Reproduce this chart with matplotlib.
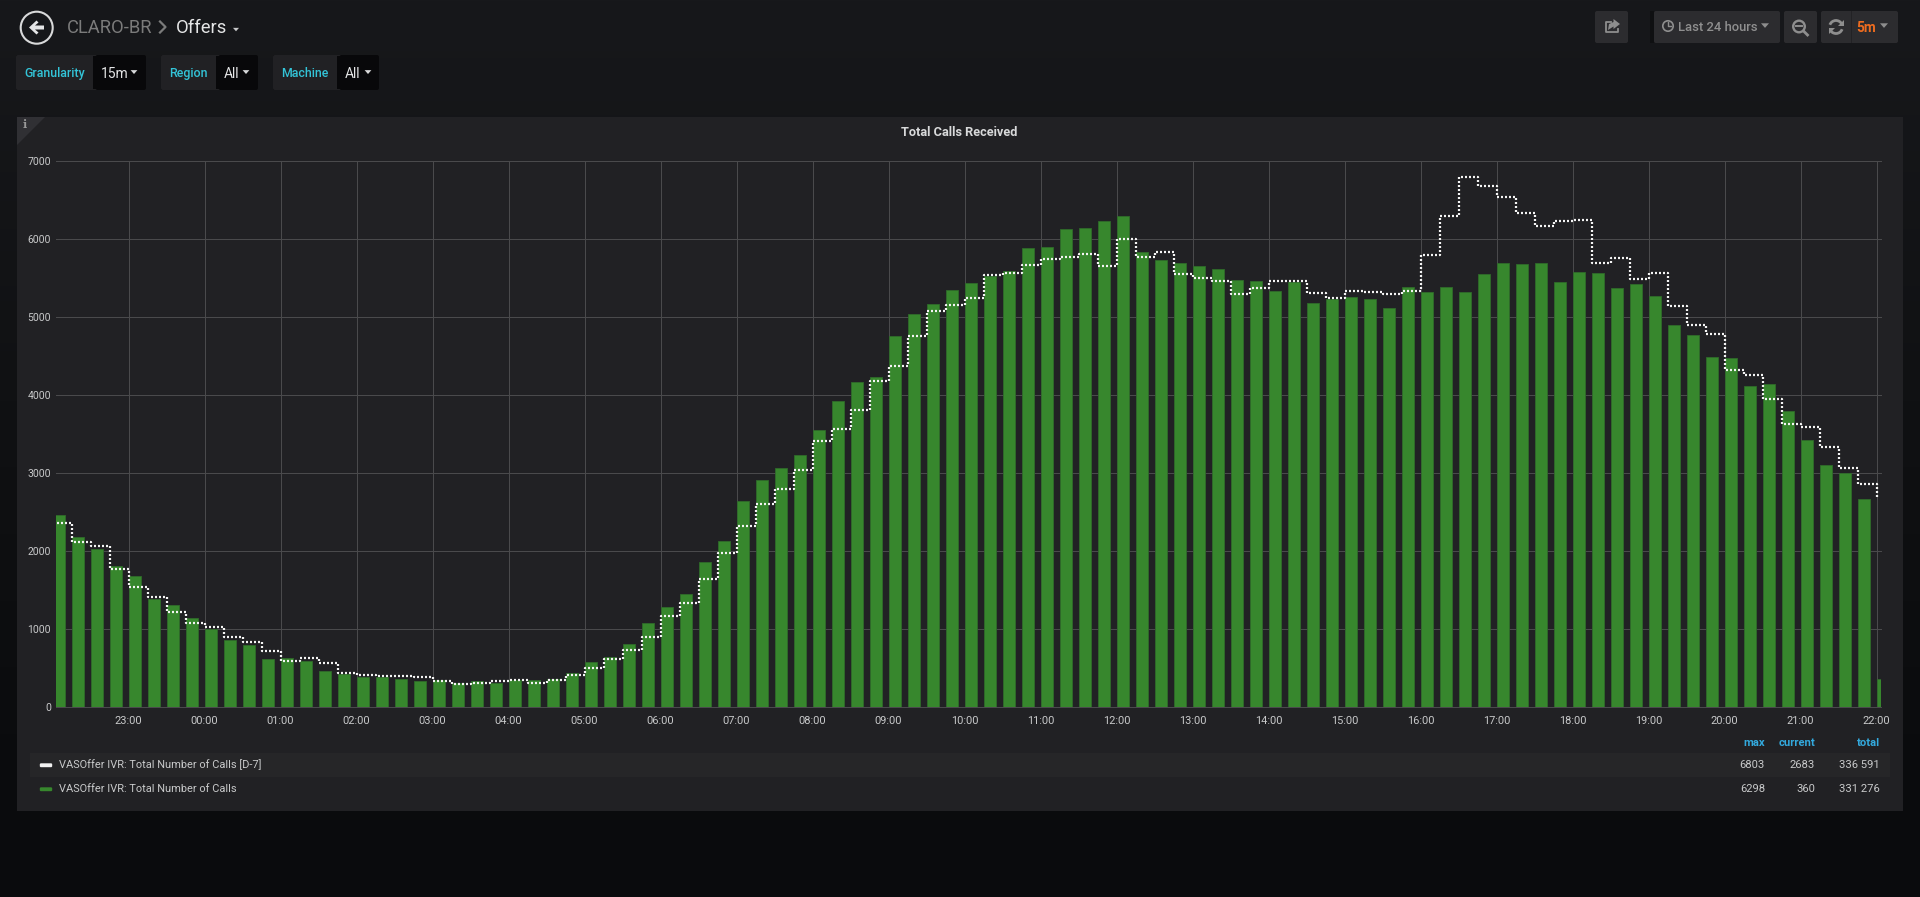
#!/usr/bin/env python3
"""Grafana dashboard screenshot: Total Calls Received, today vs D-7."""

import numpy as np
import matplotlib
matplotlib.use("Agg")
import matplotlib.pyplot as plt
from matplotlib.patches import Rectangle, Polygon, Circle, FancyBboxPatch, Arc

plt.rcParams["font.family"] = ["Roboto", "DejaVu Sans"]

# one value every 15 minutes, 22:00 the day before up to 22:00
calls_today = [
    2470, 2180, 2035, 1813, 1680, 1391, 1310, 1143, 998, 866, 798, 618,
    627, 597, 465, 427, 388, 388, 367, 333, 350, 307, 333, 316,
    350, 346, 358, 435, 585, 645, 812, 1077, 1282, 1457, 1859, 2137,
    2645, 2910, 3068, 3235, 3555, 3927, 4167, 4235, 4756, 5038, 5167, 5350,
    5436, 5530, 5594, 5889, 5902, 6132, 6145, 6239, 6298, 5838, 5735, 5692,
    5658, 5620, 5474, 5462, 5333, 5453, 5179, 5235, 5256, 5235, 5115, 5385,
    5325, 5389, 5320, 5560, 5692, 5679, 5692, 5453, 5577, 5564, 5372, 5427,
    5269, 4902, 4774, 4491, 4474, 4120, 4141, 3803, 3423, 3103, 3000, 2667,
    360,
]
calls_d7 = [
    2364, 2121, 2066, 1771, 1545, 1408, 1220, 1084, 1028, 905, 832, 725,
    597, 627, 572, 435, 414, 401, 401, 384, 341, 303, 307, 333,
    346, 316, 354, 414, 499, 615, 739, 897, 1171, 1333, 1650, 1974,
    2321, 2611, 2799, 3047, 3419, 3564, 3816, 4184, 4380, 4765, 5077, 5162,
    5252, 5542, 5564, 5671, 5752, 5778, 5816, 5654, 6004, 5769, 5842, 5551,
    5509, 5466, 5295, 5380, 5462, 5462, 5316, 5248, 5338, 5325, 5299, 5338,
    5795, 6303, 6803, 6684, 6547, 6333, 6171, 6231, 6252, 5701, 5765, 5496,
    5568, 5145, 4906, 4782, 4325, 4261, 3957, 3632, 3594, 3342, 3064, 2868,
    2683,
]
hour_labels = ["23:00", "00:00", "01:00", "02:00", "03:00", "04:00", "05:00", "06:00",
               "07:00", "08:00", "09:00", "10:00", "11:00", "12:00", "13:00", "14:00",
               "15:00", "16:00", "17:00", "18:00", "19:00", "20:00", "21:00", "22:00"]
y_ticks = [0, 1000, 2000, 3000, 4000, 5000, 6000, 7000]
legend_names = ["VASOffer IVR: Total Number of Calls [D-7]", "VASOffer IVR: Total Number of Calls"]
stat_names = ["max", "current", "total"]
stat_rows = [["6803", "2683", "336 591"], ["6298", "360", "331 276"]]

W, H = 1920, 897
PANEL = "#212124"
GREEN = "#37872D"
TEXT = "#c8c9ca"
BLUE = "#33a9dd"
CYAN = "#33c4d8"
GREY = "#8e8e8e"

fig = plt.figure(figsize=(W / 100, H / 100), dpi=100)

# page furniture is laid out in screen pixels
bg = fig.add_axes([0, 0, 1, 1], zorder=0)
bg.set_xlim(0, W)
bg.set_ylim(H, 0)
bg.axis("off")

top = np.array([0x17, 0x18, 0x1b])
mid = np.array([0x10, 0x11, 0x13])
low = np.array([0x0a, 0x0b, 0x0d])
rows = np.arange(H)
grad = np.stack([np.interp(rows, [0, 400, 800], [top[c], mid[c], low[c]]) for c in range(3)], axis=1)
bg.imshow(grad[:, None, :] / 255, extent=(0, W, H, 0), aspect="auto", zorder=0)
bg.set_xlim(0, W)
bg.set_ylim(H, 0)


def box(x0, y0, x1, y1, color, z=1):
    bg.add_patch(Rectangle((x0, y0), x1 - x0, y1 - y0, fc=color, ec="none", zorder=z))


def rbox(x0, y0, x1, y1, color, z=1):
    bg.add_patch(FancyBboxPatch((x0 + 2, y0 + 2), x1 - x0 - 4, y1 - y0 - 4,
                                boxstyle="round,pad=2,rounding_size=2", fc=color, ec="none", zorder=z))


def label(x, y, s, size, color=TEXT, ha="left", weight="normal", **kw):
    bg.text(x, y, s, fontsize=size, color=color, ha=ha, va="center", fontweight=weight, zorder=5, **kw)


def caret(x, y, size=4, color="#d8d9da"):
    bg.add_patch(Polygon([(x - size, y - size * 0.55), (x + size, y - size * 0.55), (x, y + size * 0.6)],
                         fc=color, ec="none", zorder=5))


# panel
box(17, 117, 1903, 811, PANEL)
bg.add_patch(Polygon([(17, 117), (45, 117), (17, 145)], fc="#303034", ec="none", zorder=2))
label(25, 125, "i", 8, color="#9a9a9a", ha="center", weight="bold", family="DejaVu Serif")
label(959, 132, "Total Calls Received", 9.2, color="#d8d9da", ha="center", weight="bold")

# header
bg.add_patch(Circle((36.7, 27.7), 16, fc="none", ec="#d8d9da", lw=1.5, zorder=5))
bg.add_patch(Polygon([(29, 27.5), (36.5, 20.5), (38.5, 22.5), (35, 25.5), (44, 25.5), (44, 29.5),
                      (35, 29.5), (38.5, 32.5), (36.5, 34.5)], fc="#e4e5e6", ec="none", zorder=5))
label(67, 28, "CLARO-BR", 13.2, color="#7b7b7b")
bg.plot([160, 165.5, 160], [21.5, 27, 32.5], color="#7b7b7b", lw=1.6, zorder=5)
label(176, 28, "Offers", 13.2, color="#e4e5e6")
caret(236, 29.5, 3, "#c8c9ca")

# template variables
for x0, x1, x2, name, value, tx, vx, cx in [
    (16, 93, 146, "Granularity", "15m", 24.5, 101, 134),
    (161, 216, 258, "Region", "All", 169.5, 224, 246),
    (273, 337, 379, "Machine", "All", 281.5, 345, 368),
]:
    rbox(x0, 55, x2, 90, "#08080a", 1)
    rbox(x0, 55, x1 + 4, 90, PANEL, 2)
    box(x1, 56, x1 + 4, 89, "#08080a", 3)
    label(tx, 73.5, name, 8.9, color=CYAN, weight="medium")
    label(vx, 74, value, 10, color="#e4e5e6")
    caret(cx, 72, 3.4)

# toolbar
BTN = "#2c2c2f"
box(1650, 11, 1654, 43, "#0f1012")
rbox(1595, 11, 1628, 43, BTN)
rbox(1654, 11, 1780, 43, BTN)
rbox(1784, 11, 1817, 43, BTN)
rbox(1821, 11, 1898, 43, BTN)
box(1851, 11, 1852, 43, "#222225", 3)
# share icon
bg.plot([1611, 1606, 1606, 1618, 1618], [22, 22, 32.5, 32.5, 29], color=GREY, lw=1.3, zorder=5)
bg.add_patch(Polygon([(1620, 24), (1613.5, 19), (1613.5, 22), (1609, 24), (1608, 30), (1613.5, 26.5), (1613.5, 29)],
                     fc=GREY, ec="none", zorder=5))
# clock
bg.add_patch(Circle((1668, 26), 5.2, fc="none", ec=GREY, lw=1.2, zorder=5))
bg.plot([1668, 1668, 1671], [22.5, 26.5, 26.5], color=GREY, lw=1, zorder=5)
label(1678, 27.5, "Last 24 hours", 9.4, color="#8f8f8f", weight="medium")
caret(1765, 25.5, 4, GREY)
# zoom out
bg.add_patch(Circle((1799, 26.5), 5.8, fc="none", ec=GREY, lw=1.7, zorder=5))
bg.plot([1796, 1802], [26.5, 26.5], color=GREY, lw=1.4, zorder=5)
bg.plot([1803.5, 1807.5], [31, 35], color=GREY, lw=2, zorder=5)
# refresh
bg.add_patch(Arc((1836, 27), 13, 13, theta1=200, theta2=335, ec=GREY, lw=2, zorder=5))
bg.add_patch(Arc((1836, 27), 13, 13, theta1=20, theta2=155, ec=GREY, lw=2, zorder=5))
bg.add_patch(Polygon([(1843.5, 20), (1843.5, 26), (1837.5, 26)], fc=GREY, ec="none", zorder=5))
bg.add_patch(Polygon([(1828.5, 34), (1828.5, 28), (1834.5, 28)], fc=GREY, ec="none", zorder=5))
label(1856.5, 27.5, "5m", 9.8, color="#ef6c1f", weight="bold")
caret(1884, 25.5, 4, GREY)

# legend table
box(30, 753, 1890, 777, "#262628")
for y, name, color, row in zip([764, 788], legend_names, ["#f2f2f2", GREEN], stat_rows):
    bg.add_patch(FancyBboxPatch((41, y + 0.5), 10, 1.5, boxstyle="round,pad=1.2,rounding_size=1.2",
                                fc=color, ec="none", zorder=5))
    label(59, y + 1, name, 7.9, color=TEXT)
    for x, val in zip([1765, 1815, 1880], row):
        label(x, y + 1, val, 8.1, color=TEXT, ha="right")
for x, name in zip([1765, 1815, 1880], stat_names):
    label(x, 743, name, 8.1, color=BLUE, ha="right", weight="bold")

# the chart itself, x in hours since 22:00 the day before
PX_PER_HOUR = 76.0
X_ZERO = 52.6
AX_L, AX_R, AX_T, AX_B = 56.0, 1881.0, 161.3, 707.3
ax = fig.add_axes([AX_L / W, 1 - AX_B / H, (AX_R - AX_L) / W, (AX_B - AX_T) / H], zorder=3)
ax.patch.set_alpha(0)
ax.set_xlim((AX_L - X_ZERO) / PX_PER_HOUR, (AX_R - X_ZERO) / PX_PER_HOUR)
ax.set_ylim(0, 7000)

hours = np.arange(len(calls_today)) / 4
ax.set_axisbelow(True)
ax.grid(True, color="#4a4a4c", lw=0.72)
for line in ax.get_xgridlines() + ax.get_ygridlines():
    line.set_clip_on(False)

ax.bar(hours, calls_today, width=12.4 / PX_PER_HOUR, align="edge", color=GREEN,
       edgecolor="#2f6b2a", linewidth=0.6, zorder=2)
ax.plot(hours, calls_d7, drawstyle="steps-post", color="#f4f4f4", lw=1.6,
        linestyle=(0, (0.9, 0.9)), zorder=3)

ax.set_xticks(np.arange(1, len(hour_labels) + 1))
ax.set_xticklabels(hour_labels)
ax.set_yticks(y_ticks)
ax.tick_params(length=0, colors=TEXT)
ax.tick_params(axis="x", pad=6.2, labelsize=7.9)
ax.tick_params(axis="y", pad=3.6, labelsize=7.5)
for spine in ax.spines.values():
    spine.set_visible(False)

fig.savefig("out.png", dpi=100, facecolor="#101113")
